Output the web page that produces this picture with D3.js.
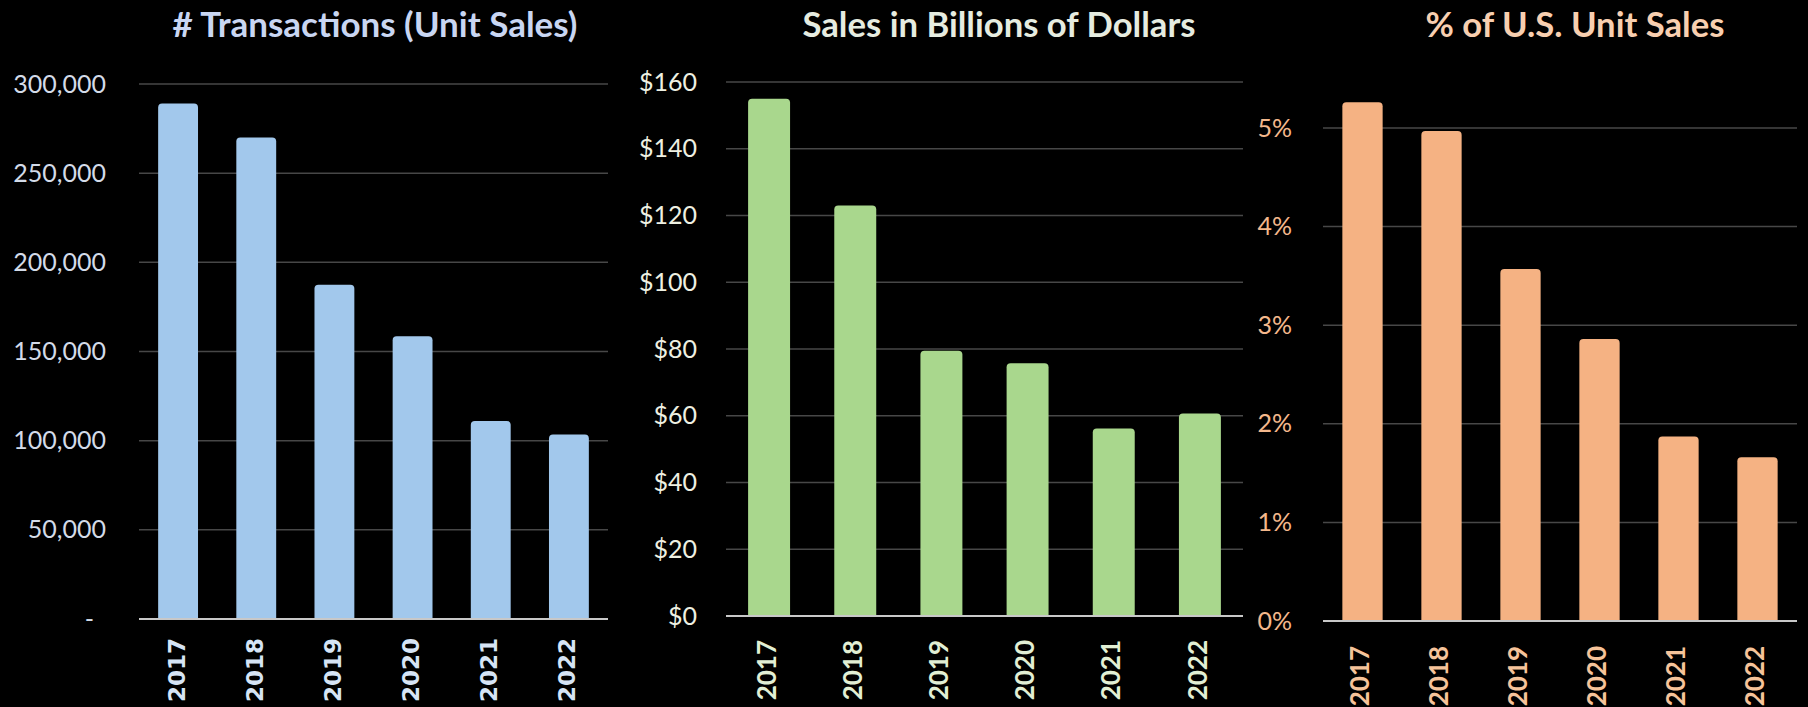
<!DOCTYPE html>
<html>
<head>
<meta charset="utf-8">
<script src="https://cdn.jsdelivr.net/npm/d3@7"></script>
<style>
  html, body { margin: 0; padding: 0; background: #000; }
  svg { display: block; }
</style>
</head>
<body>
<svg id="chart" width="1808" height="707"></svg>
<script>
// ---- data ----
const years = ["2017", "2018", "2019", "2020", "2021", "2022"];
const unitSales = [289000, 270000, 187500, 158500, 111000, 103500];
const salesBillions = [155, 123, 79.5, 75.7, 56.2, 60.7];
const usSharePct = [5.26, 4.97, 3.57, 2.86, 1.87, 1.66];

const unitTicks = [0, 50000, 100000, 150000, 200000, 250000, 300000];
const dollarTicks = [0, 20, 40, 60, 80, 100, 120, 140, 160];
const shareTicks = [0, 1, 2, 3, 4, 5];

const titles = ["# Transactions (Unit Sales)", "Sales in Billions of Dollars", "% of U.S. Unit Sales"];

// ---- panel layout & styling ----
const panels = [
  {
    title: titles[0], values: unitSales, ticks: unitTicks,
    fmt: v => v === 0 ? "-" : d3.format(",")(v),
    yDomain: [0, 300000], yRange: [619, 84],
    xRange: [139, 608], padInner: 0.49,
    labelX: 106, titleX: 375, titleW: 405,
    barColor: "#a2c8ec", titleColor: "#c9d6f2", tickColor: "#d3dbe8", yearColor: "#d6e4f5",
    yearFont: "'DejaVu Sans', sans-serif", yearSize: 23, yearOffset: 19
  },
  {
    title: titles[1], values: salesBillions, ticks: dollarTicks,
    fmt: v => "$" + v,
    yDomain: [0, 160], yRange: [616, 82],
    xRange: [726, 1243], padInner: 0.513,
    labelX: 697, titleX: 999, titleW: 393,
    barColor: "#a9d78d", titleColor: "#e6ece0", tickColor: "#eef0e2", yearColor: "#e2efd4",
    yearFont: "Lato, sans-serif", yearSize: 26, yearOffset: 24
  },
  {
    title: titles[2], values: usSharePct, ticks: shareTicks,
    fmt: v => v + "%",
    yDomain: [0, 5], yRange: [621, 128],
    xRange: [1323, 1797], padInner: 0.49,
    labelX: 1292, titleX: 1575, titleW: 299,
    barColor: "#f5b283", titleColor: "#f8cfb0", tickColor: "#f4b88c", yearColor: "#f6c39a",
    yearFont: "Lato, sans-serif", yearSize: 26, yearOffset: 25
  }
];

const svg = d3.select("#chart");
svg.append("rect").attr("width", 1808).attr("height", 707).attr("fill", "#000");

// bar with rounded top corners
function topRoundedBar(x, y, w, h, r) {
  r = Math.min(r, w / 2, h);
  return `M${x},${y + h}V${y + r}Q${x},${y} ${x + r},${y}H${x + w - r}Q${x + w},${y} ${x + w},${y + r}V${y + h}Z`;
}

panels.forEach(p => {
  const g = svg.append("g");
  const y = d3.scaleLinear().domain(p.yDomain).range(p.yRange);
  const x = d3.scaleBand().domain(years).range(p.xRange)
    .paddingInner(p.padInner).paddingOuter(p.padInner / 2);

  // gridlines
  g.append("g").selectAll("line")
    .data(p.ticks.filter(t => t !== 0))
    .join("line")
    .attr("x1", p.xRange[0]).attr("x2", p.xRange[1])
    .attr("y1", d => y(d)).attr("y2", d => y(d))
    .attr("stroke", "#474747").attr("stroke-width", 1.5);

  // value axis labels
  const yAxis = g.append("g")
    .attr("transform", `translate(${p.labelX},0)`)
    .call(d3.axisLeft(y).tickValues(p.ticks).tickFormat(p.fmt).tickSize(0).tickPadding(0));
  yAxis.select(".domain").remove();
  yAxis.selectAll("text")
    .attr("fill", p.tickColor)
    .style("font-family", "Lato, sans-serif")
    .style("font-size", "25px")
    .attr("dx", d => (p.fmt(d) === "-" ? -12 : 0));

  // bars
  g.append("g").selectAll("path")
    .data(p.values.map((v, i) => ({ year: years[i], v })))
    .join("path")
    .attr("d", d => topRoundedBar(x(d.year), y(d.v), x.bandwidth(), y(0) - y(d.v), 4))
    .attr("fill", p.barColor);

  // baseline
  g.append("line")
    .attr("x1", p.xRange[0]).attr("x2", p.xRange[1])
    .attr("y1", y(0)).attr("y2", y(0))
    .attr("stroke", "#c8c8c8").attr("stroke-width", 2);

  // category labels, rotated
  const xAxis = g.append("g")
    .attr("transform", `translate(0,${y(0)})`)
    .call(d3.axisBottom(x).tickSize(0).tickPadding(0));
  xAxis.select(".domain").remove();
  xAxis.selectAll("text")
    .attr("fill", p.yearColor)
    .style("font-family", p.yearFont)
    .style("font-size", p.yearSize + "px")
    .style("font-weight", "bold")
    .attr("text-anchor", "end")
    .attr("dominant-baseline", "middle")
    .attr("dy", null)
    .attr("y", 0)
    .attr("transform", `translate(0,${p.yearOffset}) rotate(-90)`);

  // title, sized to its width
  const t = g.append("text")
    .attr("x", p.titleX).attr("y", 37)
    .attr("text-anchor", "middle")
    .attr("fill", p.titleColor)
    .style("font-family", "Lato, sans-serif")
    .style("font-weight", "bold")
    .style("font-size", "28px")
    .text(p.title);
  const w = t.node().getComputedTextLength();
  t.style("font-size", (28 * p.titleW / w).toFixed(2) + "px");
});
</script>
</body>
</html>
